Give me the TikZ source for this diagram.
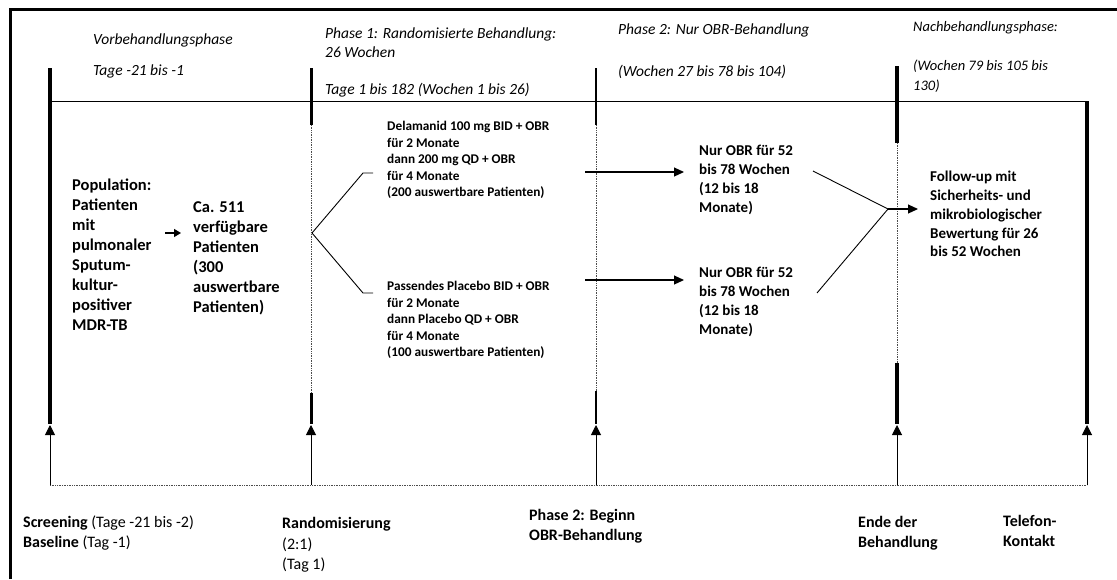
\documentclass[tikz,border=0pt]{standalone}
\usepackage{fontspec}
\setmainfont{Carlito}
\usetikzlibrary{arrows.meta}
\begin{document}
\begin{tikzpicture}[x=1pt,y=-1pt,
  thickln/.style={line width=4pt},
  midln/.style={line width=3pt},
  dotln/.style={line width=0.8pt, black!70, dash pattern=on 1pt off 0.7pt},
  thinln/.style={line width=0.8pt},
  uparr/.style={line width=1pt, -{Triangle[width=10pt,length=10pt]}},
  harr/.style={line width=1.1pt, -{Triangle[width=9pt,length=10pt]}},
  brln/.style={line width=0.9pt},
  hdr/.style={anchor=west, inner sep=0pt, align=left, font=\itshape\fontsize{15.5}{19.5}\selectfont},
  hdrs/.style={anchor=west, inner sep=0pt, align=left, font=\itshape\fontsize{14.5}{20}\selectfont},
  bigtxt/.style={anchor=west, inner sep=0pt, align=left, font=\bfseries\fontsize{16.5}{20}\selectfont},
  medtxt/.style={anchor=west, inner sep=0pt, align=left, font=\bfseries\fontsize{13.3}{16.5}\selectfont},
  obrtxt/.style={anchor=west, inner sep=0pt, align=left, font=\bfseries\fontsize{15}{18.8}\selectfont},
  lbl/.style={anchor=west, inner sep=0pt, align=left, font=\fontsize{16}{20.5}\selectfont},
  blbl/.style={lbl, font=\bfseries\fontsize{16}{20.5}\selectfont}
]
\useasboundingbox (0,0) rectangle (1117,579);
% outer frame
\draw[line width=3pt] (10,579) -- (10,9) -- (1117,9);
% top horizontal and bottom baseline
\coordinate (h1) at (50,101);
\coordinate (h2) at (1087,101);
\draw[thinln] (h1) -- (h2);
\coordinate (b1) at (50,485);
\coordinate (b2) at (311,485);
\coordinate (b3) at (596,485);
\coordinate (b4) at (897,485);
\coordinate (b5) at (1087,485);
\draw[dotln] (b1) -- (b5);
% vertical timeline lines
\draw[thickln] (50,68) -- (50,424);
\draw[midln] (311,68) -- (311,125);
\draw[dotln] (311,125) -- (311,393);
\draw[midln] (311,393) -- (311,424);
\draw[line width=2.6pt] (596,68) -- (596,125);
\draw[dotln] (596,125) -- (596,391);
\draw[line width=2.6pt] (596,391) -- (596,424);
\draw[thickln] (897,66) -- (897,143);
\draw[dotln] (897,143) -- (897,363);
\draw[thickln] (897,363) -- (897,424);
\draw[thickln] (1087,101) -- (1087,424);
% up arrows
\coordinate (e1) at (50,425);
\coordinate (e2) at (311,425);
\coordinate (e3) at (596,425);
\coordinate (e4) at (897,425);
\coordinate (e5) at (1087,425);
\draw[uparr] (b1) -- (e1);
\draw[uparr] (b2) -- (e2);
\draw[uparr] (b3) -- (e3);
\draw[uparr] (b4) -- (e4);
\draw[uparr] (b5) -- (e5);
% headers
\node[hdr] (vor) at (93,40) {Vorbehandlungsphase};
\node[hdr] (tage0) at (93,71) {Tage -21 bis -1};
\node[hdr] (ph1) at (325,42.5) {Phase 1: Randomisierte Behandlung:\\26 Wochen};
\node[hdr] (tage1) at (325,90) {Tage 1 bis 182 (Wochen 1 bis 26)};
\node[hdr] (ph2) at (618,30) {Phase 2: Nur OBR-Behandlung};
\node[hdr] (wo2) at (618,72) {(Wochen 27 bis 78 bis 104)};
\node[hdrs] (nach) at (913,28) {Nachbehandlungsphase:};
\node[hdrs] (wo3) at (913,76) {(Wochen 79 bis 105 bis\\130)};
% body
\node[bigtxt] (pop) at (72,255) {Population:\\Patienten\\mit\\pulmonaler\\Sputum-\\kultur-\\positiver\\MDR-TB};
\node[bigtxt] (ca) at (193,258) {Ca. 511\\verfügbare\\Patienten\\(300\\auswertbare\\Patienten)};
\coordinate (a1) at (165,233);
\draw[line width=1.3pt, -{Triangle[width=8pt,length=7pt]}] (a1) -- ([xshift=-12pt]ca.west |- a1);
\node[medtxt] (del) at (387,160) {Delamanid 100 mg BID + OBR\\für 2 Monate\\dann 200 mg QD + OBR\\für 4 Monate\\(200 auswertbare Patienten)};
\node[medtxt] (pla) at (387,320) {Passendes Placebo BID + OBR\\für 2 Monate\\dann Placebo QD + OBR\\für 4 Monate\\(100 auswertbare Patienten)};
\coordinate (r0) at (312,233);
\draw[brln] (r0) -- (363,173) -- (373,173);
\draw[brln] (r0) -- (363,293) -- (373,293);
\node[obrtxt] (obr1) at (699,180) {Nur OBR für 52\\bis 78 Wochen\\(12 bis 18\\Monate)};
\node[obrtxt] (obr2) at (699,302) {Nur OBR für 52\\bis 78 Wochen\\(12 bis 18\\Monate)};
\coordinate (s1) at (585,172);
\coordinate (s2) at (585,280);
\draw[harr] (s1) -- ([xshift=-15pt]obr1.west |- s1);
\draw[harr] (s2) -- ([xshift=-15pt]obr2.west |- s2);
\node[obrtxt] (fu) at (930,214) {Follow-up mit\\Sicherheits- und\\mikrobiologischer\\Bewertung für 26\\bis 52 Wochen};
\coordinate (c1) at (813,171);
\coordinate (c2) at (817,293);
\coordinate (m) at (888,209);
\draw[brln] (c1) -- (m);
\draw[brln] (c2) -- (m);
\draw[harr] (m) -- ([xshift=-12pt]fu.west |- m);
% bottom labels
\node[lbl] (scr) at (23,533) {\textbf{Screening} (Tage -21 bis -2)\\\textbf{Baseline} (Tag -1)};
\node[lbl] (rand) at (282,545) {\textbf{Randomisierung}\\(2:1)\\(Tag 1)};
\node[blbl] (p2b) at (529,526) {Phase 2: Beginn\\OBR-Behandlung};
\node[blbl] (ende) at (858,533) {Ende der\\Behandlung};
\node[blbl] (tel) at (1003,531) {Telefon-\\Kontakt};
\end{tikzpicture}
\end{document}
